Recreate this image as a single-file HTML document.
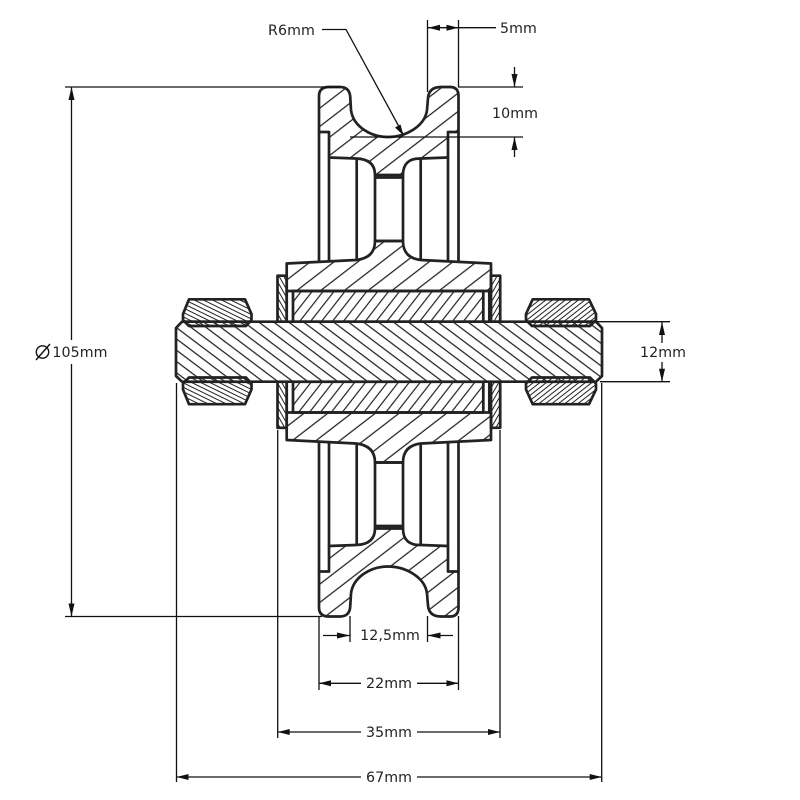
<!DOCTYPE html>
<html><head><meta charset="utf-8"><style>
html,body{margin:0;padding:0;background:#fff}
svg{display:block}
text{font-family:"DejaVu Sans","Liberation Sans",sans-serif;font-size:14.2px;fill:#222;text-anchor:middle;letter-spacing:.1px}
.t{stroke:#222;stroke-width:2.7;stroke-linejoin:round;fill:none}
.d{stroke:#111;stroke-width:1.3;fill:none}
.a{fill:#111;stroke:none}
</style></head><body>
<svg width="800" height="800" viewBox="0 0 800 800" xmlns="http://www.w3.org/2000/svg">
<defs>
<pattern id="w" width="40" height="14.5" patternUnits="userSpaceOnUse" patternTransform="translate(456.7 111.7) rotate(-37.6)"><line x1="0" y1="0.6" x2="40" y2="0.6" stroke="#222" stroke-width="1.3"/></pattern>
<pattern id="wm" width="40" height="14.5" patternUnits="userSpaceOnUse" patternTransform="translate(456.7 590) rotate(37.6)"><line x1="0" y1="0.6" x2="40" y2="0.6" stroke="#222" stroke-width="1.3"/></pattern>
<pattern id="s" width="40" height="9" patternUnits="userSpaceOnUse" patternTransform="translate(178 328) rotate(37)"><line x1="0" y1="0.6" x2="40" y2="0.6" stroke="#222" stroke-width="1.3"/></pattern>
<pattern id="b" width="40" height="8.6" patternUnits="userSpaceOnUse" patternTransform="translate(300 320) rotate(-52)"><line x1="0" y1="0.6" x2="40" y2="0.6" stroke="#222" stroke-width="1.3"/></pattern>
<pattern id="bm" width="40" height="8.6" patternUnits="userSpaceOnUse" patternTransform="translate(300 320) rotate(52)"><line x1="0" y1="0.6" x2="40" y2="0.6" stroke="#222" stroke-width="1.3"/></pattern>
<pattern id="n" width="40" height="4" patternUnits="userSpaceOnUse" patternTransform="rotate(26)"><line x1="0" y1="0.5" x2="40" y2="0.5" stroke="#222" stroke-width="1.1"/></pattern>
<pattern id="nm" width="40" height="4" patternUnits="userSpaceOnUse" patternTransform="rotate(-26)"><line x1="0" y1="0.5" x2="40" y2="0.5" stroke="#222" stroke-width="1.1"/></pattern>
<pattern id="r" width="40" height="4" patternUnits="userSpaceOnUse" patternTransform="rotate(-38)"><line x1="0" y1="0.5" x2="40" y2="0.5" stroke="#222" stroke-width="1.1"/></pattern>
<pattern id="rm" width="40" height="4" patternUnits="userSpaceOnUse" patternTransform="rotate(38)"><line x1="0" y1="0.5" x2="40" y2="0.5" stroke="#222" stroke-width="1.1"/></pattern>
<pattern id="f" width="40" height="4" patternUnits="userSpaceOnUse" patternTransform="rotate(60)"><line x1="0" y1="0.5" x2="40" y2="0.5" stroke="#222" stroke-width="1.1"/></pattern>
<pattern id="fm" width="40" height="4" patternUnits="userSpaceOnUse" patternTransform="rotate(-60)"><line x1="0" y1="0.5" x2="40" y2="0.5" stroke="#222" stroke-width="1.1"/></pattern>
<pattern id="g" width="40" height="4" patternUnits="userSpaceOnUse" patternTransform="rotate(-60)"><line x1="0" y1="0.5" x2="40" y2="0.5" stroke="#222" stroke-width="1.1"/></pattern>
<pattern id="gm" width="40" height="4" patternUnits="userSpaceOnUse" patternTransform="rotate(60)"><line x1="0" y1="0.5" x2="40" y2="0.5" stroke="#222" stroke-width="1.1"/></pattern>
</defs>

<!-- shaft -->
<path class="t" style="fill:url(#s)" d="M182 321.7L596 321.7L602 328L602 376L596 381.7L182 381.7L176 376L176 328Z"/>

<!-- upper half -->
<g>
<path class="t" style="fill:url(#w)" d="M319 132L319 96Q319 87 329 87L340 87Q350 87 350.3 98L351 110C353 126 370 137 388 137C406 137 425 126 427 110L428 98Q429 87 441 87L450 87Q458.5 87 458.5 96L458.5 132L448 132L448 157.5L421 158.5Q403 158 403 175L375 175Q375 159 356 158.5L329 157.5L329 132Z"/>
<path class="t" d="M319 132V262M329 157V262M356.7 158V260M420.7 158V260M448 157V262M458.5 132V262M375 175V241M403 175V241M375 177.5H403M375 241H403"/>
<path class="t" style="fill:url(#w)" d="M286.7 291L286.7 263.5L356 260Q375 258 375 241L403 241Q403 258 421 260L491 263.5L491 291Z"/>
<path class="t" style="fill:url(#b)" d="M293 321.7V291H483.3V321.7Z"/>
<path class="t" d="M286.7 291V321.7M489.3 291V321.7"/>
<rect class="t" style="fill:url(#f)" x="277.5" y="275.7" width="9.2" height="46"/>
<rect class="t" style="fill:url(#g)" x="491" y="275.7" width="9.2" height="46"/>
<path class="t" style="fill:url(#n)" d="M189 299.3H245L251.5 314V320L246 326H189L183 320V314Z"/>
<path class="t" style="fill:url(#r)" d="M532.7 299.3H589L596 314V320L590 326H532L526 320V314Z"/>
<path class="t" d="M183 321.7H251.5M526 321.7H596"/>
</g>

<!-- lower half (mirror about y=351.75) -->
<g transform="matrix(1 0 0 -1 0 703.5)">
<path class="t" style="fill:url(#wm)" d="M319 132L319 96Q319 87 329 87L340 87Q350 87 350.3 98L351 110C353 126 370 137 388 137C406 137 425 126 427 110L428 98Q429 87 441 87L450 87Q458.5 87 458.5 96L458.5 132L448 132L448 157.5L421 158.5Q403 158 403 175L375 175Q375 159 356 158.5L329 157.5L329 132Z"/>
<path class="t" d="M319 132V262M329 157V262M356.7 158V260M420.7 158V260M448 157V262M458.5 132V262M375 175V241M403 175V241M375 177.5H403M375 241H403"/>
<path class="t" style="fill:url(#wm)" d="M286.7 291L286.7 263.5L356 260Q375 258 375 241L403 241Q403 258 421 260L491 263.5L491 291Z"/>
<path class="t" style="fill:url(#bm)" d="M293 321.7V291H483.3V321.7Z"/>
<path class="t" d="M286.7 291V321.7M489.3 291V321.7"/>
<rect class="t" style="fill:url(#fm)" x="277.5" y="275.7" width="9.2" height="46"/>
<rect class="t" style="fill:url(#gm)" x="491" y="275.7" width="9.2" height="46"/>
<path class="t" style="fill:url(#nm)" d="M189 299.3H245L251.5 314V320L246 326H189L183 320V314Z"/>
<path class="t" style="fill:url(#rm)" d="M532.7 299.3H589L596 314V320L590 326H532L526 320V314Z"/>
<path class="t" d="M183 321.7H251.5M526 321.7H596"/>
</g>

<!-- dimension lines -->
<path class="d" d="M427.5 20V92M458.5 20V87M428 27.7H496
M322 29.5H346L403 134
M458 87H523M350 137H523M514.5 67V87M514.5 137V157
M65 87H340M65 616.5H322M71.5 87V340M71.5 364V616.5
M596 321.7H670M600 381.7H670M662 322V343M662 362V382
M350 616V642M427.5 616V642M323 635.5H350M427.5 635.5H453
M319 616V690M458.5 616V690M319 683.3H361M417 683.3H458.5
M277.7 430V738M500 430V738M277.7 732H361M417 732H500
M176.5 383V782M601.7 383V782M176.5 777H361M417 777H601.7"/>

<!-- arrowheads -->
<path class="a" d="M428 27.7l12 -3v6zM458.5 27.7l-12 -3v6z
M403.5 135.5l-8.5 -8 5.5 -3zM514.5 87l-3 -13h6zM514.5 137l-3 13h6z
M71.5 87l-3 13h6zM71.5 616.5l-3 -13h6z
M662 322l-3 13h6zM662 381.7l-3 -13h6z
M350 635.5l-13 -3v6zM427.5 635.5l13 -3v6z
M319 683.3l12 -3v6zM458.5 683.3l-12 -3v6z
M277.7 732l12 -3v6zM500 732l-12 -3v6z
M176.5 777l12 -3v6zM601.7 777l-12 -3v6z"/>

<!-- phi -->
<circle class="d" cx="42.5" cy="352" r="6.2" style="stroke-width:1.4"/>
<line class="d" x1="36" y1="360" x2="50" y2="344" style="stroke-width:1.4"/>

<text x="291.5" y="35">R6mm</text>
<text x="518.5" y="33">5mm</text>
<text x="515" y="118">10mm</text>
<text x="80" y="357">105mm</text>
<text x="663" y="357">12mm</text>
<text x="390" y="640">12,5mm</text>
<text x="389" y="688">22mm</text>
<text x="389" y="737">35mm</text>
<text x="389" y="782">67mm</text>
</svg>
</body></html>
